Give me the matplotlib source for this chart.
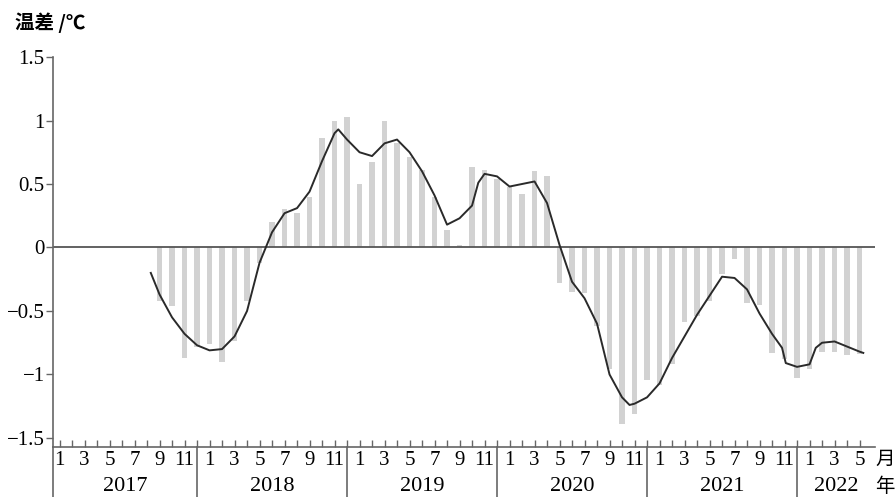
import matplotlib
matplotlib.use("Agg")
import matplotlib.pyplot as plt
import matplotlib.transforms as mtransforms

# month index: 0 = 2017-01
years = [2017, 2018, 2019, 2020, 2021, 2022]
bar_start = 8  # 2017-09
bar_vals = [
    -0.42, -0.46, -0.87, -0.78,                                              # 2017 9-12
    -0.76, -0.90, -0.74, -0.42, -0.12, 0.20, 0.30, 0.27, 0.40, 0.86, 1.00, 1.03,  # 2018
    0.50, 0.67, 1.00, 0.82, 0.71, 0.61, 0.40, 0.14, 0.02, 0.63, 0.61, 0.54,    # 2019
    0.48, 0.42, 0.60, 0.56, -0.28, -0.35, -0.36, -0.62, -0.96, -1.39, -1.31, -1.04,  # 2020
    -1.08, -0.92, -0.59, -0.54, -0.42, -0.21, -0.09, -0.44, -0.45, -0.83, -0.88, -1.03,  # 2021
    -0.96, -0.82, -0.82, -0.85, -0.84,                                       # 2022 1-5
]

# smoothed curve (month index, value)
line_x = [7.3, 8, 9, 10, 11, 12, 13, 14, 15, 16, 17, 18, 19, 20, 21, 22, 22.3, 23,
          24, 25, 26, 27, 28, 29, 30, 31, 32, 33, 33.5, 34, 35, 36, 37, 38, 39, 40,
          41, 42, 43, 44, 45, 45.6, 46, 47, 48, 49, 50, 51, 52, 53, 54, 55, 56, 57,
          57.8, 58.1, 59, 60, 60.5, 61, 62, 63, 64, 64.3]
line_y = [-0.20, -0.37, -0.55, -0.68, -0.77, -0.81, -0.80, -0.70, -0.50, -0.12, 0.12,
          0.27, 0.31, 0.44, 0.68, 0.90, 0.93, 0.85, 0.75, 0.72, 0.82, 0.85, 0.75, 0.60,
          0.41, 0.18, 0.23, 0.33, 0.51, 0.58, 0.56, 0.48, 0.50, 0.52, 0.35, 0.02, -0.27,
          -0.40, -0.60, -1.00, -1.18, -1.24, -1.23, -1.18, -1.07, -0.87, -0.70, -0.53,
          -0.38, -0.23, -0.24, -0.33, -0.52, -0.68, -0.79, -0.91, -0.94, -0.92, -0.79,
          -0.75, -0.74, -0.78, -0.82, -0.83]

y_ticks = [-1.5, -1, -0.5, 0, 0.5, 1, 1.5]
y_labels = ["\u22121.5", "\u22121", "\u22120.5", "0", "0.5", "1", "1.5"]

serif = ["Liberation Serif", "DejaVu Serif"]
cjk = ["Noto Sans CJK SC", "DejaVu Sans"]

fig = plt.figure(figsize=(8.96, 4.97), dpi=100)
ax = fig.add_axes([0.0592, 0.1006, 0.9174, 0.7847])

bx = list(range(bar_start, bar_start + len(bar_vals)))
ax.bar(bx, bar_vals, width=0.45, color="#d2d2d2", edgecolor="none", zorder=1)
ax.axhline(0, color="#555555", lw=1.3, zorder=2)
ax.plot(line_x, line_y, color="#2a2a2a", lw=1.4, zorder=3)

ax.set_xlim(-0.52, 65.24)
ax.set_ylim(-1.571, 1.5)

for s in ["top", "right"]:
    ax.spines[s].set_visible(False)
for s in ["left", "bottom"]:
    ax.spines[s].set_color("#666666")
    ax.spines[s].set_linewidth(1.2)

ax.set_yticks(y_ticks)
ax.set_yticklabels(y_labels, fontfamily=serif, fontsize=15)
ax.tick_params(axis="y", direction="out", length=5, width=1, color="#666666", pad=1)

months = list(range(0, 65))
mlabels = [str(m % 12 + 1) if (m % 12) % 2 == 0 else "" for m in months]
ax.set_xticks(months)
ax.set_xticklabels(mlabels, fontfamily=serif, fontsize=15)
ax.tick_params(axis="x", direction="in", length=5, width=1, color="#666666", pad=3)

trans = mtransforms.blended_transform_factory(ax.transData, ax.transAxes)
seps = [-0.52, 11, 23, 35, 47, 59]
for sx in seps:
    ax.plot([sx, sx], [0, -0.13], transform=trans, color="#666666", lw=1.2, clip_on=False)

bounds = seps + [65.24]
for k, yr in enumerate(years):
    cx = (bounds[k] + bounds[k + 1]) / 2
    ax.text(cx, -0.1, str(yr), transform=trans, ha="center", va="center",
            fontfamily=serif, fontsize=16)

fig.text(0.977, 0.075, "月", ha="left", va="center", fontfamily=cjk, fontsize=14)
fig.text(0.977, 0.022, "年", ha="left", va="center", fontfamily=cjk, fontsize=14)
fig.text(0.017, 0.955, "温差 /℃", ha="left", va="center", fontfamily=cjk,
         fontsize=14, fontweight="bold")

fig.savefig("out.png", dpi=100)
